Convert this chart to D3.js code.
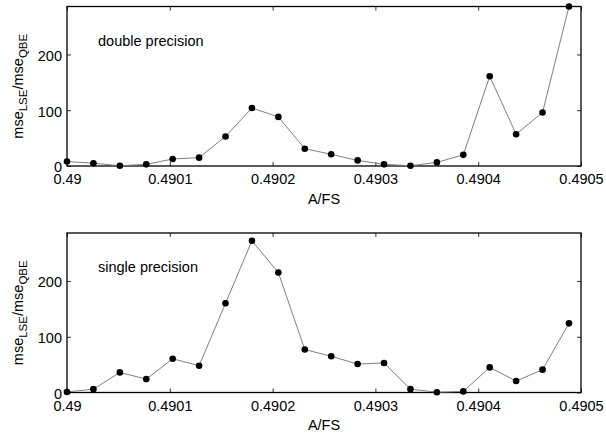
<!DOCTYPE html>
<html>
<head>
<meta charset="utf-8">
<script src="https://cdn.jsdelivr.net/npm/d3@7"></script>
<style>
  body { margin: 0; background: #fff; }
  svg { display: block; font-family: "Liberation Sans", Arial, sans-serif; }
</style>
</head>
<body>
<svg id="chart" width="606" height="434"></svg>
<script>
// A/FS values (20 points)
var afs = [0.49, 0.4900257, 0.4900514, 0.4900771, 0.4901028, 0.4901285, 0.4901542,
           0.4901799, 0.4902056, 0.4902313, 0.490257, 0.4902827, 0.4903084, 0.4903341,
           0.4903598, 0.4903855, 0.4904112, 0.4904369, 0.4904626, 0.4904883];

// mse_LSE / mse_QBE
var doublePrec = [8, 5, 0.5, 3, 12.5, 15, 53, 104, 88, 31, 21, 10, 3, 0.5, 6.5, 20, 161, 57, 96, 286];
var singlePrec = [1, 6, 36, 24, 60.5, 48, 160, 272, 215, 77, 65, 51, 53, 6, 0.5, 2, 45, 20.5, 41, 124];

var xTicks = [0.49, 0.4901, 0.4902, 0.4903, 0.4904, 0.4905];
var xTickLabels = ["0.49", "0.4901", "0.4902", "0.4903", "0.4904", "0.4905"];
var yTicks = [0, 100, 200];

var panels = [
  { name: "double precision", values: doublePrec, top: 6.5 },
  { name: "single precision", values: singlePrec, top: 233 }
];

var svg = d3.select("#chart");
var left = 67, right = 581, h = 159.5;

var x = d3.scaleLinear().domain([0.49, 0.4905]).range([left, right]);

panels.forEach(function(p) {
  var y = d3.scaleLinear().domain([0, 286]).range([p.top + h, p.top]);
  var g = svg.append("g");

  // axes, ticks pointing inwards
  g.append("g")
    .attr("transform", "translate(0," + (p.top + h) + ")")
    .call(d3.axisBottom(x).tickValues(xTicks)
      .tickFormat(function(d, i) { return xTickLabels[i]; })
      .tickSizeInner(-4).tickSizeOuter(0).tickPadding(8))
    .call(function(a) { a.select(".domain").remove(); })
    .selectAll("text").style("font-size", "14.5px");

  g.append("g")
    .attr("transform", "translate(0," + p.top + ")")
    .call(d3.axisTop(x).tickValues(xTicks).tickFormat("")
      .tickSizeInner(-4).tickSizeOuter(0))
    .call(function(a) { a.select(".domain").remove(); });

  g.append("g")
    .attr("transform", "translate(" + left + ",0)")
    .call(d3.axisLeft(y).tickValues(yTicks)
      .tickSizeInner(-4).tickSizeOuter(0).tickPadding(5))
    .call(function(a) { a.select(".domain").remove(); })
    .selectAll("text").style("font-size", "14.5px").attr("dy", "0.4em");

  g.append("g")
    .attr("transform", "translate(" + right + ",0)")
    .call(d3.axisRight(y).tickValues(yTicks).tickFormat("")
      .tickSizeInner(-4).tickSizeOuter(0))
    .call(function(a) { a.select(".domain").remove(); });

  g.selectAll(".tick line").attr("stroke", "#333");
  g.selectAll(".tick text").attr("fill", "#000");

  // frame
  g.append("rect")
    .attr("x", left).attr("y", p.top)
    .attr("width", right - left).attr("height", h)
    .attr("fill", "none").attr("stroke", "#000").attr("stroke-width", 1.3);

  // data line + markers
  var line = d3.line()
    .x(function(d, i) { return x(afs[i]); })
    .y(function(d) { return y(d); });

  g.append("path")
    .datum(p.values)
    .attr("d", line)
    .attr("fill", "none")
    .attr("stroke", "#808080")
    .attr("stroke-width", 1);

  g.selectAll("circle")
    .data(p.values)
    .enter().append("circle")
    .attr("cx", function(d, i) { return x(afs[i]); })
    .attr("cy", function(d) { return y(d); })
    .attr("r", 3.3)
    .attr("fill", "#000");

  // annotation
  g.append("text")
    .attr("x", 98).attr("y", p.top + 39)
    .style("font-size", "14.5px")
    .text(p.name);

  // x label
  g.append("text")
    .attr("x", (left + right) / 2).attr("y", p.top + h + 37.5)
    .attr("text-anchor", "middle")
    .style("font-size", "14.5px")
    .text("A/FS");

  // y label with subscripts
  var yl = g.append("text")
    .attr("transform", "translate(23," + (p.top + h / 2) + ") rotate(-90)")
    .attr("text-anchor", "middle")
    .style("font-size", "14.5px");
  yl.append("tspan").text("mse");
  yl.append("tspan").attr("dy", 4).style("font-size", "11.5px").text("LSE");
  yl.append("tspan").attr("dy", -4).text("/mse");
  yl.append("tspan").attr("dy", 4).style("font-size", "11.5px").text("QBE");
});
</script>
</body>
</html>
